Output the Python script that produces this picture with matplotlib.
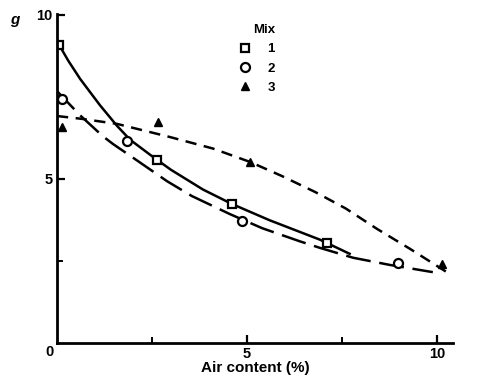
import matplotlib.pyplot as plt

plt.rcParams["font.family"] = ["Liberation Sans", "DejaVu Sans"]
plt.rcParams["font.weight"] = "bold"

# measured points
mix1_x = [0.05, 2.63, 4.6, 7.1]
mix1_y = [9.1, 5.58, 4.24, 3.05]
mix2_x = [0.13, 1.84, 4.87, 8.97]
mix2_y = [7.44, 6.16, 3.72, 2.44]
mix3_x = [0.13, 2.66, 5.08, 10.13]
mix3_y = [6.58, 6.74, 5.52, 2.41]

# fitted curves
curve1_x = [0.0, 0.3, 0.61, 1.13, 1.58, 1.92, 2.53, 3.0, 3.84, 4.6, 5.6, 6.92, 7.7]
curve1_y = [9.2, 8.6, 8.05, 7.25, 6.62, 6.2, 5.67, 5.28, 4.68, 4.24, 3.74, 3.15, 2.72]
curve2_x = [0.0, 0.6, 1.2, 1.47, 2.05, 2.9, 3.55, 4.55, 5.4, 6.39, 6.92, 7.79, 8.76, 9.89]
curve2_y = [7.68, 6.95, 6.31, 6.07, 5.61, 4.93, 4.48, 3.93, 3.5, 3.1, 2.9, 2.6, 2.38, 2.16]
curve3_x = [0.0, 0.68, 1.58, 2.45, 2.97, 4.1, 5.08, 5.9, 6.8, 7.6, 8.42, 9.29, 10.34]
curve3_y = [6.92, 6.83, 6.68, 6.43, 6.28, 5.93, 5.52, 5.1, 4.6, 4.1, 3.48, 2.87, 2.1]

x_ticks = [5, 10]
y_ticks = [5, 10]
minor_ticks = [2.5, 7.5]

fig = plt.figure(figsize=(4.87, 3.87), dpi=100)
ax = fig.add_axes([57 / 487, 1 - 343 / 387, (453 - 57) / 487, (343 - 14.4) / 387])
ax.set_xlim(0, (453 - 57) / 38)
ax.set_ylim(0, (343 - 14.4) / 32.8)

lw = 1.8
ax.plot(curve1_x, curve1_y, color="black", lw=lw)
ax.plot(curve2_x, curve2_y, color="black", lw=lw, dashes=(10, 3.5))
ax.plot(curve3_x, curve3_y, color="black", lw=lw, dashes=(4.5, 3))

ax.plot(mix1_x, mix1_y, ls="none", marker="s", ms=6, mfc="white", mec="black", mew=1.6, label="1")
ax.plot(mix2_x, mix2_y, ls="none", marker="o", ms=6.5, mfc="white", mec="black", mew=1.6, label="2")
ax.plot(mix3_x, mix3_y, ls="none", marker="^", ms=6, mfc="black", mec="black", label="3")

for s in ["top", "right"]:
    ax.spines[s].set_visible(False)
for s in ["left", "bottom"]:
    ax.spines[s].set_linewidth(2)

ax.set_xticks(x_ticks)
ax.set_yticks(y_ticks)
ax.set_xticks(minor_ticks, minor=True)
ax.set_yticks(minor_ticks, minor=True)
ax.tick_params(which="major", direction="in", length=6, width=1.6, labelsize=10.5, pad=3)
ax.tick_params(which="minor", direction="in", length=4, width=1.4)

ax.text(-7 / 38, -9 / 32.8, "0", ha="center", va="center", fontsize=10.5, fontweight="bold")
ax.set_xlabel("Air content (%)", fontsize=11, fontweight="bold", labelpad=0)
fig.text(15 / 487, 1 - 20 / 387, "g", ha="center", va="center", fontsize=11,
         fontweight="bold", style="italic")

leg = ax.legend(loc="upper left", bbox_to_anchor=(172 / 396, 1.0), frameon=False,
                title="Mix", fontsize=9.5, title_fontsize=9.5, handlelength=1.0,
                handletextpad=1.2, labelspacing=0.55, borderpad=0.2)
leg.get_title().set_fontweight("bold")
leg._legend_box.align = "right"

fig.savefig("out.png", dpi=100)
